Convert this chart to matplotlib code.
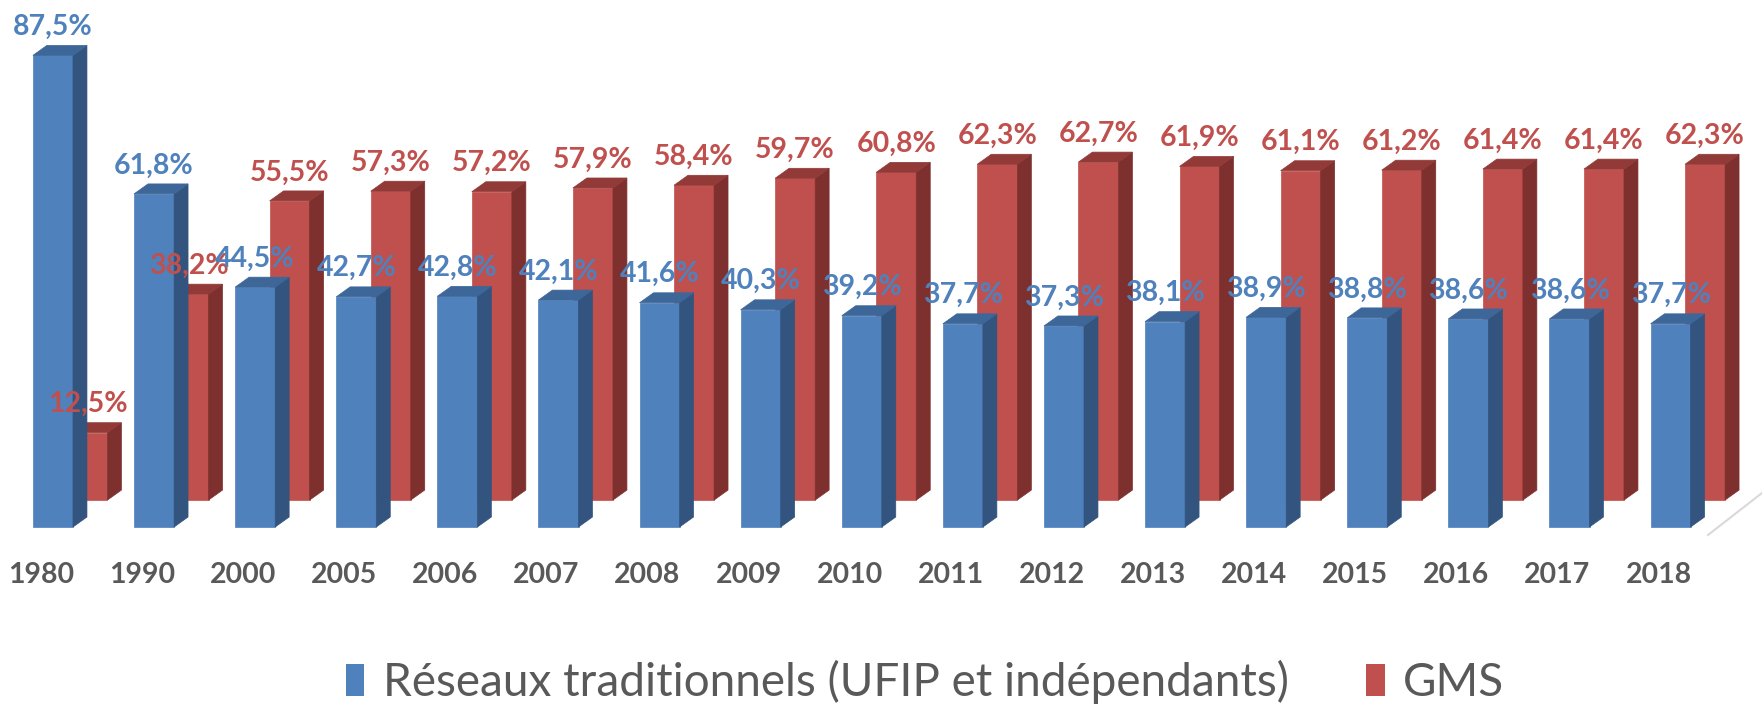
import numpy as np
import matplotlib.pyplot as plt
from matplotlib.patches import Polygon, Patch

# Données
annees = ['1980', '1990', '2000', '2005', '2006', '2007', '2008', '2009', '2010',
          '2011', '2012', '2013', '2014', '2015', '2016', '2017', '2018']
reseaux_trad = [87.5, 61.8, 44.5, 42.7, 42.8, 42.1, 41.6, 40.3, 39.2,
                37.7, 37.3, 38.1, 38.9, 38.8, 38.6, 38.6, 37.7]
gms = [12.5, 38.2, 55.5, 57.3, 57.2, 57.9, 58.4, 59.7, 60.8,
       62.3, 62.7, 61.9, 61.1, 61.2, 61.4, 61.4, 62.3]

plt.rcParams['font.family'] = ['Lato', 'DejaVu Sans']

# Géométrie du faux 3D
bar_w = 0.396
dx, dy = 0.138, 1.85        # profondeur des barres
shift_x, shift_y = 0.341, 5.0  # décalage de la série du fond (GMS)
gris = '#595959'

fig = plt.figure(figsize=(17.62, 7.08), dpi=100)
ax = fig.add_axes([0, 0, 1, 1])
ax.set_xlim(-0.524, 16.904)
ax.set_ylim(-33.58, 97.77)
ax.axis('off')

x = np.arange(len(annees))


def barres_3d(xc, vals, base, front, side, top, z):
    bars = ax.bar(xc, vals, width=bar_w, bottom=base, color=front,
                  edgecolor=front, linewidth=0.5, zorder=z)
    for b in bars:
        x0 = b.get_x()
        x1 = x0 + b.get_width()
        y0 = b.get_y()
        y1 = y0 + b.get_height()
        ax.add_patch(Polygon([(x1, y0), (x1 + dx, y0 + dy), (x1 + dx, y1 + dy), (x1, y1)],
                             closed=True, facecolor=side, edgecolor=side, lw=0.5, zorder=z))
        ax.add_patch(Polygon([(x0, y1), (x0 + dx, y1 + dy), (x1 + dx, y1 + dy), (x1, y1)],
                             closed=True, facecolor=top, edgecolor=top, lw=0.5, zorder=z))
    return bars


barres_3d(x + shift_x, gms, shift_y, '#C0504D', '#7E302E', '#923A37', 1)
barres_3d(x, reseaux_trad, 0, '#4F81BD', '#32547E', '#3D6699', 2)

# ligne du sol (coin droit)
ax.plot([16.37, 16.904], [-1.48, 6.31], color='#D9D9D9', lw=1.5, zorder=0)


def fmt(v):
    return f"{v:.1f}".replace('.', ',') + '%'


for xi, v in zip(x, gms):
    ax.text(xi + shift_x, v + shift_y + 3.8, fmt(v), ha='center', va='baseline',
            fontsize=20.5, fontweight='bold', color='#C0504D', zorder=5)
for xi, v in zip(x, reseaux_trad):
    ax.text(xi, v + 3.8, fmt(v), ha='center', va='baseline',
            fontsize=20.5, fontweight='bold', color='#4F81BD', zorder=6)

for xi, a in zip(x, annees):
    ax.text(xi - 0.12, -8.9, a, ha='center', va='center',
            fontsize=20.5, fontweight='bold', color=gris)

handles = [Patch(facecolor='#4F81BD', label='Réseaux traditionnels (UFIP et indépendants)'),
           Patch(facecolor='#C0504D', label='GMS')]
fig.legend(handles=handles, loc='center', bbox_to_anchor=(0.525, 0.037), ncol=2,
           frameon=False, fontsize=33, labelcolor=gris, handlelength=0.4,
           handleheight=0.7, handletextpad=0.4, columnspacing=1.7)

fig.savefig('out.png', dpi=100)
